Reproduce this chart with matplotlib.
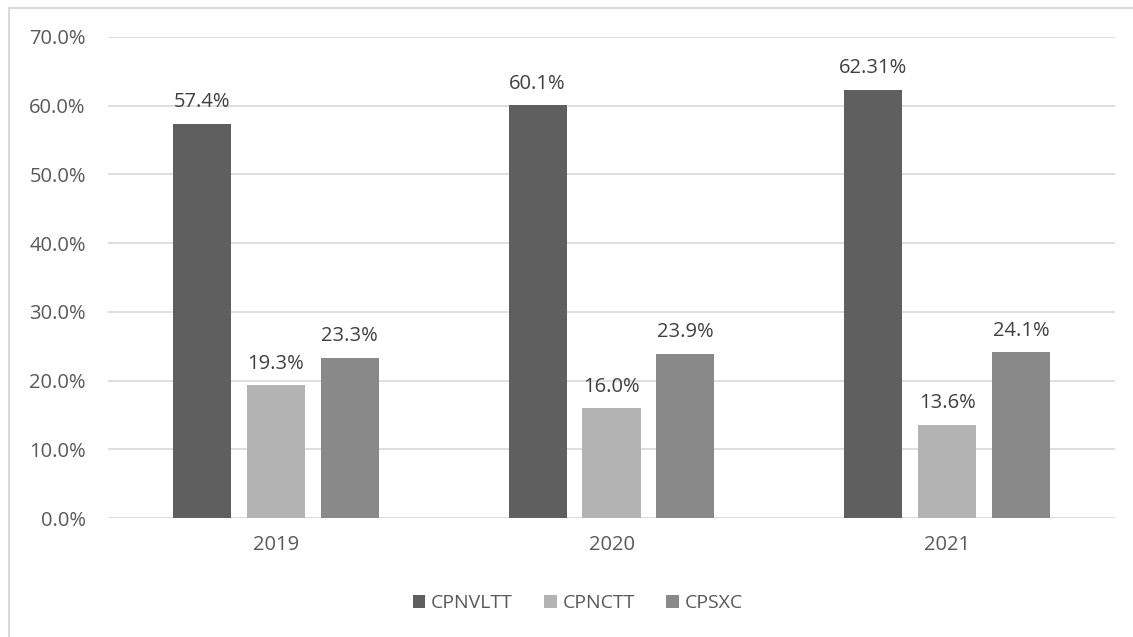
import matplotlib.pyplot as plt
import numpy as np
from matplotlib.patches import Rectangle

# dữ liệu
years = ['2019', '2020', '2021']
cpnvltt = [57.4, 60.1, 62.31]
cpnctt = [19.3, 16.0, 13.6]
cpsxc = [23.3, 23.9, 24.1]
labels_nvl = ['57.4%', '60.1%', '62.31%']
labels_nct = ['19.3%', '16.0%', '13.6%']
labels_sxc = ['23.3%', '23.9%', '24.1%']

plt.rcParams['font.family'] = ['Open Sans', 'DejaVu Sans']
txt = '#595959'

fig = plt.figure(figsize=(11.33, 6.37), dpi=100)
ax = fig.add_axes([108/1133, 1-518/637, (1115-108)/1133, (518-37)/637])

x = np.arange(len(years))
w = 0.173
step = 0.22
series = [(cpnvltt, labels_nvl, '#5f5f5f', 'CPNVLTT'),
          (cpnctt, labels_nct, '#b3b3b3', 'CPNCTT'),
          (cpsxc, labels_sxc, '#898989', 'CPSXC')]
for i, (vals, labs, col, name) in enumerate(series):
    bars = ax.bar(x + (i-1)*step, vals, w, color=col, label=name, zorder=3)
    for b, l in zip(bars, labs):
        ax.text(b.get_x()+b.get_width()/2, b.get_height()+2.4, l, ha='center', va='baseline',
                fontsize=14.5, color='#404040')

ax.set_ylim(0, 70)
ax.set_xlim(-0.5, 2.5)
ax.set_yticks(np.arange(0, 71, 10))
ax.set_yticklabels(['%.1f%%' % v for v in np.arange(0, 71, 10)])
ax.set_xticks(x)
ax.set_xticklabels(years)
ax.grid(axis='y', color='#d9d9d9', linewidth=1.2, zorder=0)
for s in ax.spines.values():
    s.set_visible(False)
ax.tick_params(length=0, labelsize=14.5, colors=txt, pad=16)
ax.tick_params(axis='x', pad=12)

leg = fig.legend(loc='center', bbox_to_anchor=(0.51, 1-603/637), ncol=3, frameon=False,
                 fontsize=14, handlelength=0.65, handleheight=0.65, handletextpad=0.3, columnspacing=1.6)
for t in leg.get_texts():
    t.set_color(txt)

fig.patches.append(Rectangle((9/1133, -0.1), 1.0, 1.1-8.5/637, transform=fig.transFigure,
                             fill=False, edgecolor='#d9d9d9', linewidth=1.5))

plt.savefig('out.png')
